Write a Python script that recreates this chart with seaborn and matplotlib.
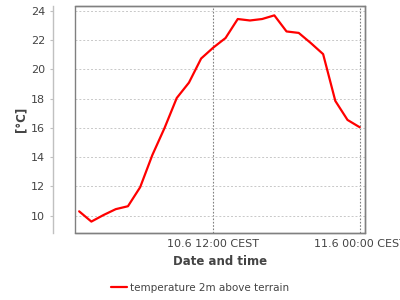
import numpy as np
import pandas as pd
import matplotlib
matplotlib.use("Agg")
import matplotlib.pyplot as plt
import matplotlib.dates as mdates
from matplotlib.patches import Rectangle
import seaborn as sns

# ---- data ----
start_time = "2024-06-10 01:00"
n_hours = 24
temperature = [10.3, 9.6, 10.05, 10.45, 10.65, 11.95, 14.15, 16.0, 18.05, 19.1,
               20.75, 21.5, 22.15, 23.45, 23.35, 23.45, 23.7, 22.6, 22.5, 21.8,
               21.05, 17.85, 16.55, 16.05]
series_label = "temperature 2m above terrain"
y_ticks = [10, 12, 14, 16, 18, 20, 22, 24]
x_label = "Date and time"
y_label = "[°C]"

times = pd.date_range(start_time, periods=n_hours, freq="h")
df = pd.DataFrame({"time": times, "temp": temperature, "series": series_label})

sns.set_theme(style="white")
plt.rcParams["font.family"] = ["DejaVu Sans"]

fig = plt.figure(figsize=(4, 3), dpi=100)
ax = fig.add_axes([75.3 / 400, (300 - 232.7) / 300, (365 - 75.3) / 400, (232.7 - 6) / 300])

sns.lineplot(data=df, x="time", y="temp", hue="series", palette=["#ff0000"],
             linewidth=1.6, ax=ax, legend=True)

ax.set_ylim(8.84, 24.34)
ax.set_xlim(pd.Timestamp("2024-06-10 00:41"), pd.Timestamp("2024-06-11 00:26"))
ax.set_yticks(y_ticks)
ax.xaxis.set_major_locator(mdates.HourLocator(byhour=[0, 12]))

def fmt(x, pos):
    d = mdates.num2date(x)
    return f"{d.day}.{d.month} {d:%H:%M} CEST"

ax.xaxis.set_major_formatter(plt.FuncFormatter(fmt))

ax.grid(False)
ax.yaxis.grid(True, color="#c8c8c8", linestyle=(0, (2, 2)), linewidth=0.7)
ax.xaxis.grid(True, color="#808080", linestyle=(0, (1.5, 1.5)), linewidth=0.8)

for s in ["top", "right", "bottom"]:
    ax.spines[s].set_visible(True)
    ax.spines[s].set_color("#808080")
    ax.spines[s].set_linewidth(1.0)
ax.spines["left"].set_position(("outward", 15.84))
ax.spines["left"].set_color("#c0c0c0")
ax.spines["left"].set_linewidth(1.0)
ax.add_patch(Rectangle((0, 0), 1, 1, transform=ax.transAxes, fill=False,
                       edgecolor="#808080", linewidth=1.0, clip_on=False, zorder=3))

ax.tick_params(axis="y", left=True, length=2.5, width=0.8, color="#c0c0c0",
               pad=3.5, labelsize=8, labelcolor="#444444")
ax.tick_params(axis="x", bottom=False, length=0, pad=4.5, labelsize=8,
               labelcolor="#444444")

ax.set_xlabel(x_label, fontsize=8.5, fontweight="bold", color="#444444", labelpad=4)
ax.set_ylabel(y_label, fontsize=8.5, fontweight="bold", color="#444444", labelpad=2.5)

leg = ax.legend(loc="center", bbox_to_anchor=(200 / 400, 1 - 288 / 300),
                bbox_transform=fig.transFigure, frameon=False, fontsize=7.5,
                handlelength=1.5, handletextpad=0.3)
for t in leg.get_texts():
    t.set_color("#444444")

fig.savefig("out.png", dpi=100)
